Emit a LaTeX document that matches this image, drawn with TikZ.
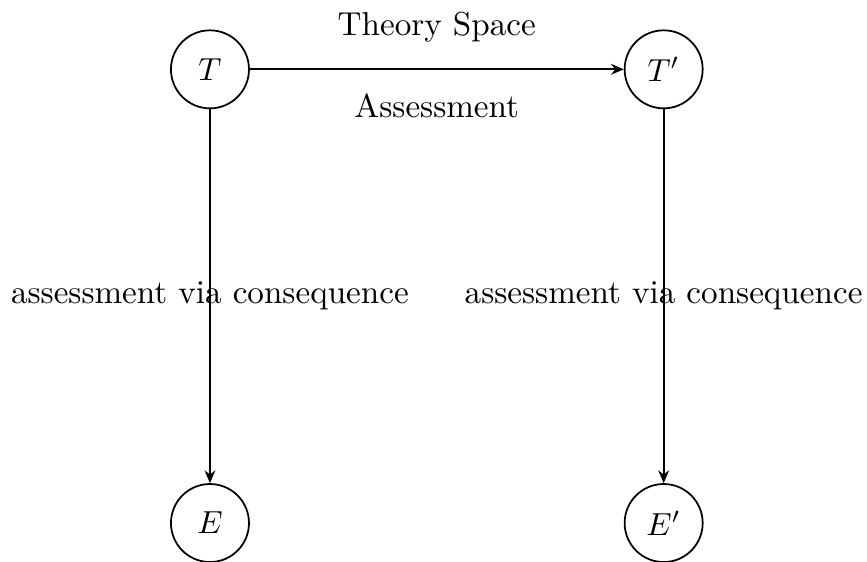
\documentclass[tikz,border=0pt]{standalone}
\usepackage{tikz}
\usetikzlibrary{positioning,arrows.meta}

\begin{document}
\begin{tikzpicture}[
  line width=0.55pt,
  state/.style={draw, circle, minimum size=0.86cm, inner sep=0pt},
  lbl/.style={font=\fontsize{10.4}{12.5}\selectfont},
  arr/.style={-{Stealth[length=4pt,width=3.4pt]}}
]
\useasboundingbox (-2.314,0.764) rectangle (7.241,-5.419);

\node[state] (T)  at (0,0)  {$T$};
\node[state] (Tp) at (5,0)  {$T'$};
\node[state] (E)  at (0,-5) {$E$};
\node[state] (Ep) at (5,-5) {$E'$};

\draw[arr] (T) -- node[lbl,above,yshift=5pt] {Theory Space}
  node[lbl,below,yshift=-4pt] {Assessment} (Tp);
\draw[arr] (T) -- node[lbl] {assessment via consequence} (E);
\draw[arr] (Tp) -- node[lbl] {assessment via consequence} (Ep);

\end{tikzpicture}
\end{document}
